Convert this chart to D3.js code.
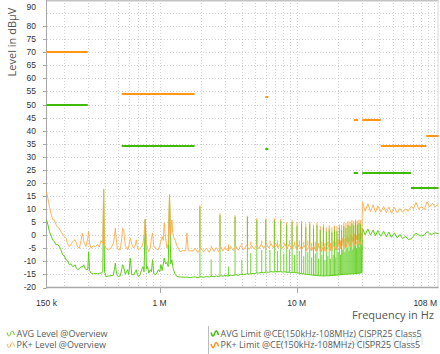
<!DOCTYPE html>
<html>
<head>
<meta charset="utf-8">
<script src="https://cdn.jsdelivr.net/npm/d3@7"></script>
<style>
  body { margin: 0; background: #fff; }
  svg { display: block; font-family: "Open Sans", "DejaVu Sans", sans-serif; }
</style>
</head>
<body>
<div id="chart"></div>
<script>
// ---- data (frequencies in MHz, levels in dBuV) ----
const lowMHz = [0.150,0.1536,0.1575,0.1615,0.1664,0.1713,0.1762,0.1801,0.1862,0.1909,
  0.1968,0.2025,0.2083,0.2129,0.2202,0.2258,0.2327,0.2374,0.2423,0.2476,
  0.2531,0.2603,0.2679,0.2738,0.2798,0.2855,0.2913,0.3002,0.3042,0.3089,
  0.3167,0.3292,0.3404,0.3538,0.364,0.3745,0.386,0.3912,0.3972,0.4073,
  0.4233,0.4429,0.4604,0.4697,0.4761,0.4825,0.4922,0.5005,0.5175,0.5308,
  0.5379,0.547,0.5627,0.5849,0.5968,0.6119,0.6274,0.6467,0.6654,0.6767,
  0.6882,0.7032,0.7236,0.7419,0.7571,0.7712,0.7868,0.8028,0.8177,0.8344,
  0.8556,0.873,0.8892,0.9074,0.9304,0.9541,0.9833,1.0033,1.0238,1.0463,
  1.064,1.082,1.106,1.132,1.157,1.1826,1.2066,1.231,1.2476,1.2646,
  1.301,1.3386,1.4144,1.487,1.551,1.583,1.618,1.673,1.768];
const lowAvg = [5.8,4,1.4,0,-1.8,-2.5,-3.7,-3.5,-4.3,-5.5,
  -7.5,-8,-9.4,-9.6,-11.3,-11,-12,-11.8,-11.3,-12.5,
  -13.2,-12.8,-12,-12.2,-11.3,-12.5,-13.2,-13,-6.3,-13.5,
  -14.5,-14.8,-14.6,-14.8,-14.6,-14.5,-14,17.6,-14,-15.8,
  -15.6,-15.5,-15.3,-13,-10.7,-13.5,-15.5,-15.8,-15.5,-13,
  -11.3,-12,-15,-13.2,-15,-8.8,-15,-15.2,-14,-13.2,
  -15,-15.8,-15,-13,-12,-14,6,-13,-12,-14.5,
  -13.2,-14,-9.4,-14.5,-15.2,-14.5,-13.2,-14,-11.3,-13.5,
  -11,-8.8,-11,-10.4,-12,15.4,-11,-9.4,-12,-13.2,
  -15,-15.8,-16,-16,-16.1,-16,-16.1,-16.2,-16];
const lowPk = [16.6,14,11,8.4,6,5.8,4,3.3,2.5,1.4,
  0.5,-0.5,-1.2,-3,-4.4,-3.5,-2.5,-2,-1.8,-3,
  -4.5,-5,-2,0.8,-2,-3.5,-4.3,-1,1.4,-3,
  -5,-4,-4.4,-3.5,-4.5,-2,-3,17.6,-4,-5,
  -5.6,-5,-3,-0.5,2.7,-1,-5,-5.6,-5.5,-1,
  2.7,2.2,-4,-5.6,-4,-1.1,-3.5,-4.9,-4,-1.8,
  -4,-5.6,-5,-4.5,-3,0,6.2,-3,-5,-6.3,
  -5,-1,0.8,-4,-4.9,-5.3,-5.6,-4,-2,-0.5,
  -2,4.6,-1,-4.9,-3,15.6,0,5.8,1,-0.5,
  -2,-4,-6.3,-5.8,-6,0.8,-5.9,-6,-5.9];

const midMHz = [1.82,1.9,2.0,2.1,2.2,2.3,2.4,2.5,2.6,2.7,
  2.8,2.9,3.0,3.15,3.3,3.45,3.6,3.75,3.9,4.1,
  4.3,4.5,4.7,4.9,5.1,5.3,5.5,5.75,6.0,6.25,
  6.5,6.75,7.0,7.3,7.6,7.9,8.2,8.5,8.8,9.2,
  9.6,10,10.4,10.8,11.3,11.8,12.3,12.8,13.3,13.9,
  14.5,15.1,15.7,16.4,17.1,17.8,18.5,19.3,20.1,20.9,
  21.8,22.7,23.6,24.6,25.6,26.7,27.8,28.9,29.9,
  30.1,31.5,33,34.5,36,37.5,39,41,43,45,
  47,49,51.5,54,56.5,59,62,65,68,71,
  74,77.5,81,85,89,93,97.5,102,108];
const midAvg = [-16,-16.2,-15.9,-16.1,-15.8,-16,-15.7,-15.9,-15.6,-15.8,
  -15.5,-15.7,-15.4,-15.6,-15.3,-15.4,-15.1,-15.3,-15,-15.1,
  -14.8,-14.9,-14.6,-14.7,-14.4,-14.5,-14.2,-14.4,-14.1,-14.2,
  -13.9,-14.1,-13.9,-14,-13.9,-14.1,-14,-14.2,-14.1,-14.3,
  -14.2,-14.4,-14.5,-14.7,-14.8,-15,-15.1,-15.2,-15.3,-15.4,
  -15.5,-15.5,-15.6,-15.5,-15.5,-15.4,-15.4,-15.3,-15.2,-15.1,
  -15,-14.9,-14.9,-14.8,-14.8,-14.7,-14.6,-14.5,-14.3,
  2.7,0.2,2.4,0,2,-0.2,1.8,-0.4,1.5,-0.6,
  1.2,-0.8,0.9,-1,0.3,-1.3,-0.4,-1.6,-1.4,-0.4,
  0.8,0.1,-0.3,0,1.4,0.5,0.4,0.9,0.6];
const midPk = [-5,-6.6,-4.8,-6.4,-5,-6.5,-4.6,-6.2,-4.8,-6.3,
  -4.5,-6.1,-4.6,-6,-4.3,-5.9,-4.2,-5.7,-4,-5.6,
  -3.9,-5.4,-3.8,-5.3,-3.6,-5.2,-3.5,-5,-3.3,-4.9,
  -3.2,-4.8,-3,-4.8,-3.2,-5,-3.3,-5.2,-3.4,-5.3,
  -3.5,-5.4,-3.6,-5.6,-3.8,-5.8,-4,-6,-4.1,-6.1,
  -4.2,-6.2,-4.2,-6.1,-4,-5.9,-3.8,-5.6,-3.4,-5.2,
  -3,-4.8,-2.6,-4.4,-2.2,-4,-1.8,-3.6,-1.5,
  12.6,9.2,12,9,11.6,8.8,11.2,8.8,11,8.6,
  10.8,8.4,10.6,8.6,10.2,8.8,10,9.2,11,10.2,
  12.6,10,11,9.8,12.8,10.8,12.2,10.8,12];

// harmonic spikes between 1.8 MHz and 30 MHz
const spikeMHz = [1.97,2.38,2.76,3.18,3.55,3.98,4.37,4.62,5.12,5.56,5.95,6.38,6.87,
  7.25,7.65,8.05,8.45,8.85,9.25,9.65,10.05,10.45,10.85,11.25,11.65,12.05,12.45,12.85,
  13.25,13.65,14.05,14.45,14.85,15.25,15.65,16.05,16.45,16.85,17.25,17.65,18.05,18.45,
  18.85,19.25,19.65,20.05,20.45,20.85,21.25,21.65,22.05,22.45,22.85,23.25,23.65,24.05,
  24.45,24.85,25.25,25.65,26.05,26.45,26.85,27.25,27.65,28.05,28.45,28.85,29.25,29.65];
const spikeAvg = [10.9,-9.2,7.7,-12,7.1,-9.4,6.9,-6.9,5.8,-5.6,5.8,-5.6,5.8,
  -6,5.5,-7,4,-5.5,5,-7.5,3.5,-6,4.5,-8,3,-6.5,4.2,-8.5,
  2.5,-7,3.8,-9,2,-7.5,3,-9.5,1.5,-8,2.5,-9,1,-7.5,
  2.2,-8.5,1.5,-6.5,2.8,-7.5,2,-5.5,3.5,-6.5,2.8,-5,4,-6,
  3.5,-4.5,4.5,-5.5,3.8,-4,4.8,-5,4,-3.5,4.6,-4.5,4.2,-3.5];
const spikePk = [11.5,-4,8.4,-3.5,7.6,-3,7.5,-2.5,6.5,-2,6.5,-2,6.5,
  -2,6.2,-2.5,5,-2,5.8,-2.5,4.8,-2,5.5,-2.5,4.5,-2,5.2,-3,
  4,-2.5,4.8,-3,3.5,-2.5,4.2,-3,3,-2.5,3.8,-3,3,-2,
  3.6,-2.5,3.5,-1.5,4.2,-2,4,-1,4.8,-1.5,4.6,-0.5,5.4,-1,
  5.2,0,5.8,-0.5,5.5,0.5,6,0,5.6,0.8,6,0.5,5.8,1];

// CISPR25 class 5 limits
const pkLimStart = [0.15, 0.53, 5.9, 26, 30, 41, 88];
const pkLimStop  = [0.3, 1.8, 6.2, 28, 41, 88, 108];
const pkLimLevel = [70, 54, 53, 44, 44, 34, 38];
const avgLimStart = [0.15, 0.53, 5.9, 26, 30, 68];
const avgLimStop  = [0.3, 1.8, 6.2, 28, 68, 108];
const avgLimLevel = [50, 34, 33, 24, 24, 18];

const yTickVals = [-20,-15,-10,-5,0,5,10,15,20,25,30,35,40,45,50,55,60,65,70,75,80,90];
const xTickVals = [0.15, 1, 10, 108];
const xTickText = ["150 k", "1 M", "10 M", "108 M"];

const legendLeft = ["AVG Level @Overview", "PK+ Level @Overview"];
const legendRight = ["AVG Limit @CE(150kHz-108MHz) CISPR25 Class5", "PK+ Limit @CE(150kHz-108MHz) CISPR25 Class5"];

// colours
const avgColor = "#5ccd17", pkColor = "#ffac4a";
const avgLimColor = "#3fbb06", pkLimColor = "#ff9616";

// ---- chart ----
const width = 440, height = 354;
const svg = d3.select("#chart").append("svg")
    .attr("width", width)
    .attr("height", height);

const x = d3.scaleLog().domain([0.15, 108]).range([46.5, 438.5]);
const y = d3.scaleLinear().domain([-20, 90]).range([287.5, 0]);

// grid
const grid = svg.append("g")
    .attr("stroke", "#d2d2d2")
    .attr("stroke-dasharray", "1,2");
grid.selectAll("line.v")
    .data(x.ticks().filter(f => f > 0.15 && f < 108))
    .join("line")
    .attr("x1", d => Math.round(x(d)) + 0.5)
    .attr("x2", d => Math.round(x(d)) + 0.5)
    .attr("y1", 0)
    .attr("y2", 287);
grid.selectAll("line.h")
    .data(d3.range(-15, 90, 5))
    .join("line")
    .attr("x1", 47)
    .attr("x2", 438)
    .attr("y1", d => Math.round(y(d)) + 0.5)
    .attr("y2", d => Math.round(y(d)) + 0.5);

// frame
svg.append("line").attr("x1", 46.5).attr("x2", 438.5).attr("y1", 0.75).attr("y2", 0.75)
    .attr("stroke", "#c4c4c4").attr("stroke-width", 1.5);
svg.append("line").attr("x1", 438).attr("x2", 438).attr("y1", 0).attr("y2", 288)
    .attr("stroke", "#d8d8d8");
svg.append("line").attr("x1", 46.5).attr("x2", 46.5).attr("y1", 0).attr("y2", 288)
    .attr("stroke", "#a8a8a8");
svg.append("line").attr("x1", 46).attr("x2", 438.5).attr("y1", 287.5).attr("y2", 287.5)
    .attr("stroke", "#a8a8a8").attr("stroke-width", 1.5);

// y ticks
const yAxis = svg.append("g");
yAxis.selectAll("line")
    .data(yTickVals.filter(v => v < 90))
    .join("line")
    .attr("x1", 43).attr("x2", 46.5)
    .attr("y1", d => Math.round(y(d)) + 0.5)
    .attr("y2", d => Math.round(y(d)) + 0.5)
    .attr("stroke", "#a8a8a8");
yAxis.selectAll("text")
    .data(yTickVals)
    .join("text")
    .attr("x", 36)
    .attr("y", d => Math.max(y(d), 7))
    .attr("dy", "0.35em")
    .attr("text-anchor", "end")
    .attr("fill", "#333")
    .attr("style", "font-size: 8.5px; font-family: 'Liberation Sans', Arial, sans-serif")
    .text(d => d);

// x ticks
const xAxis = svg.append("g");
xAxis.selectAll("line")
    .data(xTickVals.slice(1, -1))
    .join("line")
    .attr("x1", d => Math.round(x(d)) + 0.5)
    .attr("x2", d => Math.round(x(d)) + 0.5)
    .attr("y1", 288).attr("y2", 293)
    .attr("stroke", "#a8a8a8");
xAxis.selectAll("text")
    .data(xTickVals)
    .join("text")
    .attr("x", (d, i) => i === xTickVals.length - 1 ? 437 : x(d))
    .attr("y", 305.5)
    .attr("text-anchor", (d, i) => i === xTickVals.length - 1 ? "end" : "middle")
    .attr("fill", "#333")
    .attr("style", "font-size: 8.5px; font-family: 'Liberation Sans', Arial, sans-serif")
    .text((d, i) => xTickText[i]);

// axis titles
svg.append("text")
    .attr("transform", "translate(16,42) rotate(-90)")
    .attr("text-anchor", "middle")
    .attr("fill", "#555")
    .attr("style", "font-size: 11px")
    .text("Level in dBµV");
svg.append("text")
    .attr("x", 434)
    .attr("y", 319)
    .attr("text-anchor", "end")
    .attr("fill", "#555")
    .attr("style", "font-size: 11px")
    .text("Frequency in Hz");

// traces
const allMHz = lowMHz.concat(midMHz);
const allAvg = lowAvg.concat(midAvg);
const allPk = lowPk.concat(midPk);
const nearest = f => d3.leastIndex(allMHz, g => Math.abs(Math.log(g / f)));

const line = d3.line()
    .x(d => x(d[0]))
    .y(d => y(d[1]));

const traces = svg.append("g").attr("fill", "none").attr("stroke-width", 1);

// PK spikes first, then AVG, then the PK band on top
traces.append("g").selectAll("line")
    .data(spikeMHz)
    .join("line")
    .attr("x1", d => x(d)).attr("x2", d => x(d))
    .attr("y1", (d, i) => y(spikePk[i]))
    .attr("y2", d => y(allPk[nearest(d)]))
    .attr("stroke", pkColor);

traces.append("path")
    .attr("d", line(allMHz.map((f, i) => [f, allAvg[i]])))
    .attr("stroke", avgColor);
traces.append("g").selectAll("line")
    .data(spikeMHz)
    .join("line")
    .attr("x1", d => x(d)).attr("x2", d => x(d))
    .attr("y1", (d, i) => y(spikeAvg[i]))
    .attr("y2", d => y(allAvg[nearest(d)]))
    .attr("stroke", avgColor)
    .attr("stroke-opacity", 0.85);

traces.append("path")
    .attr("d", line(allMHz.map((f, i) => [f, allPk[i]])))
    .attr("stroke", pkColor)
    .attr("stroke-opacity", 0.9);

// limit lines
const limits = svg.append("g").attr("stroke-width", 2);
limits.selectAll("line.pk")
    .data(pkLimStart)
    .join("line")
    .attr("x1", d => x(d))
    .attr("x2", (d, i) => x(pkLimStop[i]))
    .attr("y1", (d, i) => Math.round(y(pkLimLevel[i])))
    .attr("y2", (d, i) => Math.round(y(pkLimLevel[i])))
    .attr("stroke", pkLimColor);
limits.selectAll("line.avg")
    .data(avgLimStart)
    .join("line")
    .attr("x1", d => x(d))
    .attr("x2", (d, i) => x(avgLimStop[i]))
    .attr("y1", (d, i) => Math.round(y(avgLimLevel[i])))
    .attr("y2", (d, i) => Math.round(y(avgLimLevel[i])))
    .attr("stroke", avgLimColor);

// watermark
svg.append("text")
    .attr("x", 424)
    .attr("y", 345)
    .attr("text-anchor", "end")
    .attr("fill", "#b9dfe6")
    .attr("opacity", 0.55)
    .attr("style", "font-size: 16px")
    .text("www.cntronics.com");

// legend
const wave = "M0,-1 C1.2,3.5 2.6,3.5 3.6,0 C4.6,-3.5 6,-3.5 7.5,1.5";
const legend = svg.append("g")
    .attr("fill", "#5a5a5a")
    .attr("style", "font-size: 9px");
const legColorsLeft = [avgColor, pkColor];
const legColorsRight = [avgLimColor, pkLimColor];
[336.5, 348].forEach((yy, i) => {
    legend.append("path")
        .attr("d", wave)
        .attr("transform", `translate(7,${yy - 3})`)
        .attr("fill", "none")
        .attr("stroke", legColorsLeft[i])
        .attr("stroke-width", 1);
    legend.append("text").attr("x", 16.5).attr("y", yy).text(legendLeft[i]);
    legend.append("path")
        .attr("d", wave)
        .attr("transform", `translate(211,${yy - 3})`)
        .attr("fill", "none")
        .attr("stroke", legColorsRight[i])
        .attr("stroke-width", 1.5);
    legend.append("text").attr("x", 220.5).attr("y", yy).text(legendRight[i]);
});
svg.append("line")
    .attr("x1", 208.5).attr("x2", 208.5)
    .attr("y1", 326).attr("y2", 354)
    .attr("stroke", "#bbb");
</script>
</body>
</html>
